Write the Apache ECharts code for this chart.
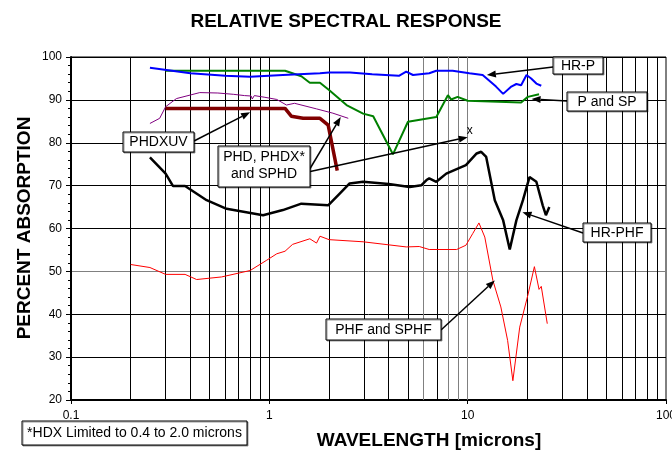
<!DOCTYPE html>
<html>
<head>
<meta charset="utf-8">
<script src="https://cdn.jsdelivr.net/npm/echarts@6/dist/echarts.min.js"></script>
<style>
  html, body { margin: 0; padding: 0; background: #fff; }
  #main { width: 672px; height: 454px; }
</style>
</head>
<body>
<div id="main"></div>
<script>
// values: [wavelength in microns, percent absorption]
var hrP = [[0.25,97.5],[0.4,96.2],[0.6,95.6],[0.8,95.4],[1.17,95.8],[1.8,96.2],[2.0,96.4],[2.55,96.4],[3.3,96.0],
  [4.5,95.6],[4.9,96.6],[5.3,95.8],[6.4,96.2],[6.95,96.8],[8.4,96.8],[10.2,96.2],[11.9,95.8],[13.9,93.1],[15.1,91.4],
  [16.6,93.1],[17.6,93.7],[18.6,93.4],[19.8,95.8],[20.9,95.0],[22.2,93.8],[23.5,93.3]];
var pAndSp = [[0.3,96.8],[1.2,96.8],[1.45,95.5],[1.6,94.0],[1.8,94.0],[2.0,92.3],[2.45,88.8],[2.97,86.8],[3.34,86.2],
  [4.2,77.3],[5.0,84.9],[6.95,86.0],[7.95,91.1],[8.25,90.1],[8.9,90.7],[10.0,89.8],[18.6,89.4],[20.1,90.7],[22.9,91.3]];
var phdxuv = [[0.25,84.5],[0.28,85.7],[0.3,88.4],[0.34,90.3],[0.446,91.7],[0.55,91.6],[0.658,91.3],[0.75,91.0],
  [0.81,90.9],[0.82,90.2],[0.84,91.0],[0.95,90.6],[1.09,90.1],[1.22,88.8],[1.34,89.2],[1.73,87.9],[2.09,86.9],[2.5,85.7]];
var phd = [[0.3,88],[1.2,88],[1.29,86.2],[1.48,85.7],[1.8,85.7],[1.98,84.1],[2.2,73.5]];
var hrPhf = [[0.25,76.6],[0.3,72.8],[0.327,69.9],[0.376,69.9],[0.483,66.6],[0.609,64.6],[0.93,63.1],[1.17,64.3],
  [1.45,65.8],[1.98,65.4],[2.27,68.2],[2.54,70.5],[2.97,70.9],[4.0,70.4],[5.1,69.7],[5.85,70.1],[6.2,71.3],[6.4,71.7],
  [6.95,70.9],[7.8,72.8],[9.8,74.8],[11.1,77.5],[11.7,77.9],[12.4,76.7],[13.7,66.6],[15.1,61.9],[16.3,55.1],[17.6,61.9],
  [19.0,66.6],[20.5,72.0],[22.2,70.9],[23.9,65.4],[24.8,63.1],[25.8,65.0]];
var phf = [[0.2,51.6],[0.25,50.9],[0.3,49.3],[0.376,49.3],[0.43,48.1],[0.574,48.7],[0.8,50.2],[0.97,52.6],[1.09,54.1],
  [1.2,54.7],[1.31,56.3],[1.6,57.6],[1.73,56.6],[1.8,58.2],[2.0,57.4],[2.97,56.9],[4.9,55.7],[5.7,55.8],[6.4,55.1],
  [8.8,55.1],[9.8,56.1],[10.6,58.8],[11.4,61.3],[12.2,58.0],[13.4,47.9],[14.7,41.7],[15.9,33.9],[16.9,24.5],[18.3,37.0],
  [20.1,44.4],[21.7,51.1],[22.9,45.8],[23.5,46.5],[25.2,37.8]];

// vertical grid lines of the log paper
var gridBlack = [0.2,0.3,0.4,0.5,0.6,0.7,0.8,0.9,1,2,3,4,5,7,20,30,40,50,60,70,80,90];
var gridGray = [6,8,9,10];

var FONT = '"Liberation Sans", Arial, sans-serif';

var chart = echarts.init(document.getElementById('main'));

function line(name, data, color, width) {
  return {
    name: name, type: 'line', data: data, showSymbol: false, symbol: 'none',
    lineStyle: { color: color, width: width }, itemStyle: { color: color },
    animation: false, z: 5
  };
}

var gridLines = gridBlack.map(function (v) {
  return { xAxis: v, lineStyle: { color: '#000', width: 1, type: 'solid' } };
}).concat(gridGray.map(function (v) {
  return { xAxis: v, lineStyle: { color: '#808080', width: 1, type: 'solid' } };
}));

var option = {
  animation: false,
  backgroundColor: '#fff',
  title: {
    text: 'RELATIVE SPECTRAL RESPONSE',
    left: 341, top: 7, textAlign: 'center',
    textStyle: { fontFamily: FONT, fontSize: 19, fontWeight: 'bold', color: '#000' }
  },
  grid: {
    left: 71, right: 6, top: 57, bottom: 54, containLabel: false, outerBoundsMode: 'none',
    show: true, borderColor: '#000', borderWidth: 1, backgroundColor: 'transparent'
  },
  xAxis: {
    type: 'log', logBase: 10, min: 0.1, max: 100, splitNumber: 3,
    axisLine: { lineStyle: { color: '#000', width: 2 } },
    axisTick: { show: true, length: 4, lineStyle: { color: '#000' } },
    axisLabel: {
      fontFamily: FONT, fontSize: 12, color: '#000', margin: 10,
      formatter: function (v) { return String(+(+v).toPrecision(3)); }
    },
    splitLine: { show: false }
  },
  yAxis: {
    type: 'value', min: 20, max: 100, interval: 10,
    axisLine: { show: true, lineStyle: { color: '#000', width: 2 } },
    axisTick: { show: true, length: 5, lineStyle: { color: '#000' } },
    minorTick: { show: true, splitNumber: 5, length: 3, lineStyle: { color: '#000' } },
    axisLabel: { fontFamily: FONT, fontSize: 12, color: '#000', margin: 9 },
    splitLine: { show: true, lineStyle: { color: ['#000','#000','#000','#808080','#000','#000','#000','#000','#000'], width: 1 } }
  },
  series: [
    {
      type: 'line', data: [], silent: true, z: 1,
      markLine: { silent: true, symbol: ['none', 'none'], label: { show: false }, animation: false, data: gridLines }
    },
    line('PHF and SPHF', phf, '#ff0000', 1),
    line('HR-PHF', hrPhf, '#000000', 2.5),
    line('PHDXUV', phdxuv, '#800080', 1),
    line('P and SP', pAndSp, '#008000', 2),
    line('PHD, PHDX* and SPHD', phd, '#800000', 3.5),
    line('HR-P', hrP, '#0000ff', 2)
  ]
};

chart.setOption(option);

function box(x, y, w, h, lines) {
  var els = [{
    type: 'rect', z: 100,
    shape: { x: x, y: y, width: w, height: h },
    style: { fill: '#fff', stroke: '#000', lineWidth: 1, shadowColor: 'rgba(0,0,0,0.4)', shadowOffsetX: 1, shadowOffsetY: 1 }
  }];
  var lh = 17;
  var y0 = y + h / 2 - lh * (lines.length - 1) / 2 + 0.5 - (lines.length > 1 ? 1.5 : 0);
  lines.forEach(function (t, i) {
    els.push({
      type: 'text', z: 101,
      style: {
        text: t, x: x + w / 2, y: y0 + lh * i,
        font: '14px ' + FONT, fill: '#000',
        align: 'center', verticalAlign: 'middle', textAlign: 'center', textVerticalAlign: 'middle'
      }
    });
  });
  return els;
}

function arrow(from, toData) {
  var p = chart.convertToPixel({ xAxisIndex: 0, yAxisIndex: 0 }, toData);
  var dx = p[0] - from[0], dy = p[1] - from[1];
  var len = Math.sqrt(dx * dx + dy * dy);
  var ux = dx / len, uy = dy / len, hl = 9, hw = 3.5;
  var bx = p[0] - ux * hl, by = p[1] - uy * hl;
  return [
    { type: 'line', z: 99, shape: { x1: from[0], y1: from[1], x2: bx, y2: by }, style: { stroke: '#000', lineWidth: 1.5 } },
    { type: 'polygon', z: 99, shape: { points: [[p[0], p[1]], [bx - uy * hw, by + ux * hw], [bx + uy * hw, by - ux * hw]] }, style: { fill: '#000' } }
  ];
}

var graphics = [];
graphics = graphics
  .concat(arrow([553, 67], [12.5, 95.8]))
  .concat(box(553, 57, 50, 17, ['HR-P']))
  .concat(arrow([567, 101], [21.0, 90.2]))
  .concat(box(567, 92, 80, 19, ['P and SP']))
  .concat(arrow([194, 141], [0.8, 87.1]))
  .concat(box(123, 132, 71, 20, ['PHDXUV']))
  .concat(arrow([308, 172], [2.29, 86.0]))
  .concat(arrow([308, 172], [10.0, 81.3]))
  .concat(box(218, 146, 92, 41, ['PHD, PHDX*', 'and SPHD']))
  .concat(arrow([583, 233], [18.9, 63.8]))
  .concat(box(583, 223, 68, 19, ['HR-PHF']))
  .concat(arrow([441, 330], [13.7, 47.9]))
  .concat(box(326, 319, 115, 21, ['PHF and SPHF']))
  .concat(box(22, 421, 225, 24, ['*HDX Limited to 0.4 to 2.0 microns']));

var xMark = chart.convertToPixel({ xAxisIndex: 0, yAxisIndex: 0 }, [10.0, 81.3]);
graphics.push({
  type: 'text', z: 101,
  style: { text: 'x', x: xMark[0] + 2, y: xMark[1] - 6, font: '12px ' + FONT, fill: '#000',
    align: 'center', verticalAlign: 'middle', textAlign: 'center', textVerticalAlign: 'middle' }
});
graphics.push({
  type: 'text', z: 101,
  style: { text: 'WAVELENGTH [microns]', x: 429, y: 441, font: 'bold 19px ' + FONT, fill: '#000',
    align: 'center', verticalAlign: 'middle', textAlign: 'center', textVerticalAlign: 'middle' }
});
graphics.push({
  type: 'text', z: 101, rotation: Math.PI / 2, x: 25, y: 228,
  style: { text: 'PERCENT ABSORPTION', x: 0, y: 0, font: 'bold 19px ' + FONT, fill: '#000',
    align: 'center', verticalAlign: 'middle', textAlign: 'center', textVerticalAlign: 'middle' }
});

chart.setOption({ graphic: { elements: graphics } });
</script>
</body>
</html>
